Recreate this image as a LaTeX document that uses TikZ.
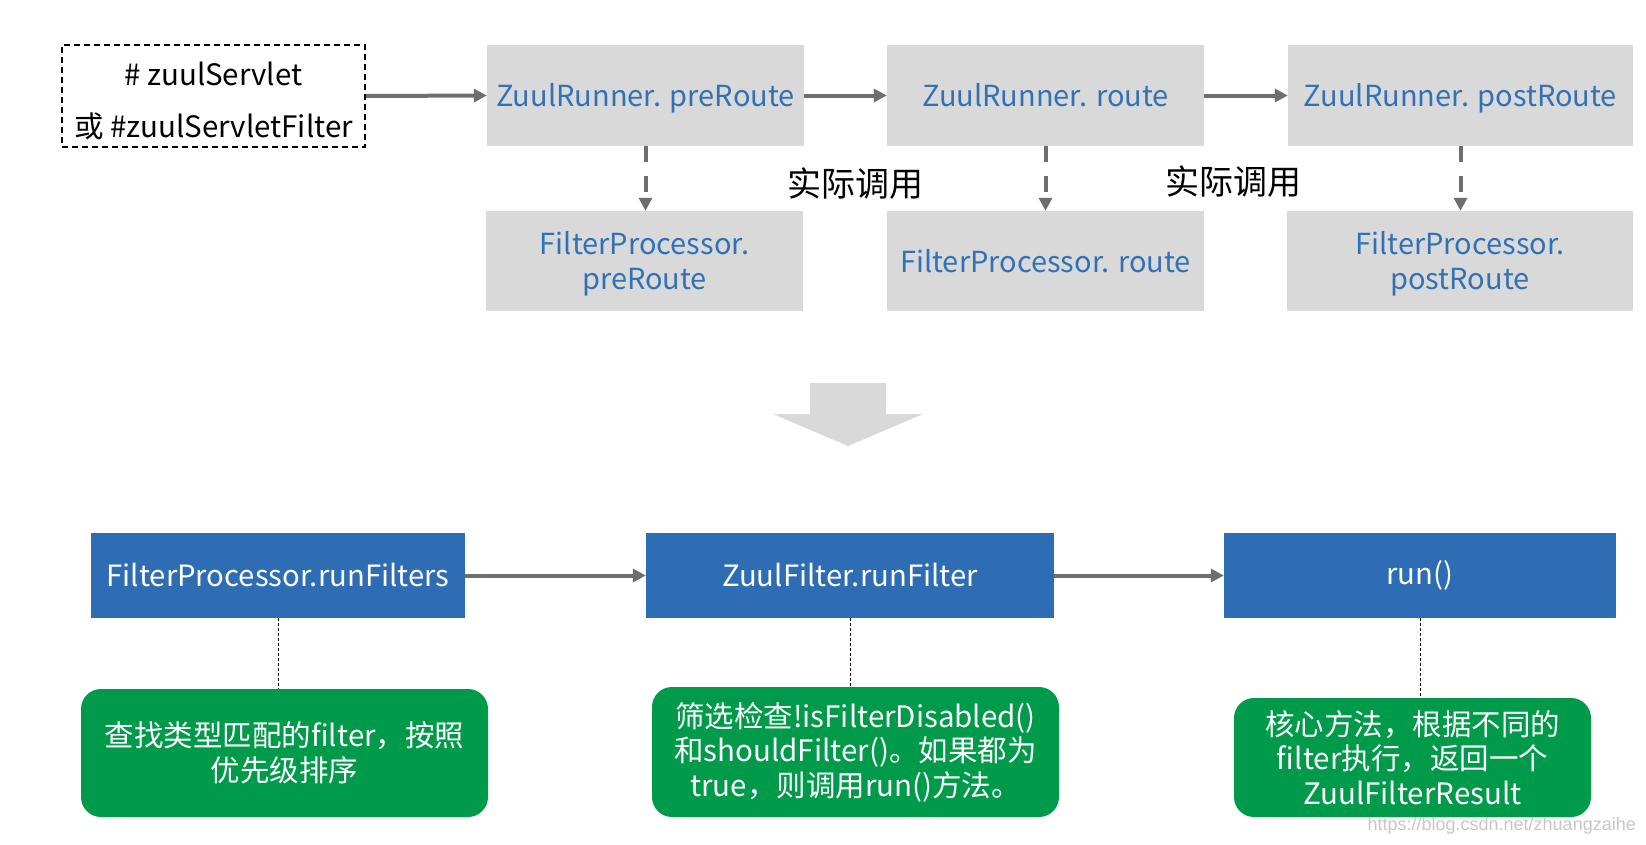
\documentclass[tikz,border=0pt]{standalone}
\usepackage{fontspec}
\setmainfont{Noto Sans CJK SC}
\newfontfamily\wmfont{Liberation Sans}
\usetikzlibrary{arrows.meta}
\definecolor{boxgray}{HTML}{D9D9D9}
\definecolor{txtblue}{HTML}{3171B6}
\definecolor{fillblue}{HTML}{2E6DB4}
\definecolor{fillgreen}{HTML}{009B4A}
\definecolor{arrgray}{HTML}{6D6E71}
\tikzset{
  graybox/.style={rectangle, fill=boxgray, draw=none, inner sep=0pt, minimum height=101pt},
  graytext/.style={text=txtblue, align=center, inner sep=0pt, yshift=-3pt,
    font=\fontsize{29}{34.6}\selectfont},
  bluebox/.style={rectangle, fill=fillblue, draw=none, text=white, align=center, inner sep=0pt,
    font=\fontsize{29.3}{34}\selectfont, minimum height=85pt},
  greenbox/.style={rectangle, rounded corners=20pt, fill=fillgreen, draw=none, text=white, align=center, inner sep=0pt,
    font=\fontsize{29.5}{34.6}\selectfont},
  srcbox/.style={rectangle, draw=black, dashed, dash pattern=on 6pt off 4pt, line width=1.6pt, inner sep=0pt,
    minimum width=303pt, minimum height=102pt},
  srctext/.style={align=center, inner sep=0pt, yshift=-5pt, font=\fontsize{29.5}{52}\selectfont},
  flow/.style={draw=arrgray, line width=4pt, -{Triangle[length=13pt,width=13pt]}},
  callarrow/.style={draw=arrgray, line width=4pt, dash pattern=on 16pt off 14pt, -{Triangle[length=13pt,width=13pt]}},
  note/.style={draw=black, line width=1pt, dash pattern=on 3pt off 2pt},
  calllabel/.style={font=\fontsize{34}{38}\selectfont, text=black, inner sep=0pt}
}
\newcommand{\fixd}{\vphantom{Ap}}
\begin{document}
\begin{tikzpicture}[x=1pt,y=-1pt]
\useasboundingbox (0,0) rectangle (1646,844);
\fill[white] (0,0) rectangle (1646,844);

% top row
\node[srcbox, label={[srctext]center:{\# zuulServlet\\或 \#zuulServletFilter}}] (src) at (213.5,96) {};
\node[graybox, minimum width=317pt, label={[graytext]center:{ZuulRunner. preRoute\fixd}}] (t1) at (645.5,95.5) {};
\node[graybox, minimum width=317pt, label={[graytext]center:{ZuulRunner. route\fixd}}] (t2) at (1045.5,95.5) {};
\node[graybox, minimum width=345pt, label={[graytext]center:{ZuulRunner. postRoute\fixd}}] (t3) at (1460.5,95.5) {};

\node[graybox, minimum width=317pt, minimum height=100pt, label={[graytext]center:{FilterProcessor.\\preRoute}}] (b1) at (644.5,261) {};
\node[graybox, minimum width=317pt, minimum height=100pt, label={[graytext]center:{FilterProcessor. route\fixd}}] (b2) at (1045.5,261) {};
\node[graybox, minimum width=346pt, minimum height=100pt, label={[graytext]center:{FilterProcessor.\\postRoute}}] (b3) at (1460,261) {};

\node[calllabel] (l1) at (855,184) {实际调用};
\node[calllabel] (l2) at (1233,182) {实际调用};

\draw[flow] (src.east) -- (t1.west);
\draw[flow] (t1.east) -- (t2.west);
\draw[flow] (t2.east) -- (t3.west);

\draw[callarrow] (t1.south) -- (b1.north -| t1.south);
\draw[callarrow] (t2.south) -- (b2.north -| t2.south);
\draw[callarrow] (t3.south) -- (b3.north -| t3.south);

% big down arrow
\fill[boxgray] (810,383) -- (886,383) -- (886,414) -- (923,414) -- (848,446) -- (773,414) -- (810,414) -- cycle;

% bottom row
\node[bluebox, minimum width=374pt] (B1) at (278,575.5) {FilterProcessor.runFilters};
\node[bluebox, minimum width=408pt] (B2) at (850,575.5) {ZuulFilter.runFilter};
\node[bluebox, minimum width=392pt] (B3) at (1420,575.5) {run()};

\draw[flow] (B1.east) -- (B2.west);
\draw[flow] (B2.east) -- (B3.west);

\node[greenbox, minimum width=407pt, minimum height=128pt] (G1) at (284.5,753) {查找类型匹配的filter，按照\\优先级排序};
\node[greenbox, minimum width=407pt, minimum height=130pt] (G2) at (855.5,752) {筛选检查!isFilterDisabled()\\和shouldFilter()。如果都为\\true，则调用run()方法。};
\node[greenbox, minimum width=357pt, minimum height=119pt] (G3) at (1412.5,757.5) {核心方法，根据不同的\\filter执行，返回一个\\ZuulFilterResult};

\draw[note] (B1.south) -- (B1.south |- G1.north);
\draw[note] (B2.south) -- (B2.south |- G2.north);
\draw[note] (B3.south) -- (B3.south |- G3.north);

% watermark
\node[font=\wmfont\fontsize{18}{20}\selectfont, text=black!22, anchor=east, inner sep=0pt] (wm) at (1636,826) {https://blog.csdn.net/zhuangzaihe};
\end{tikzpicture}
\end{document}
